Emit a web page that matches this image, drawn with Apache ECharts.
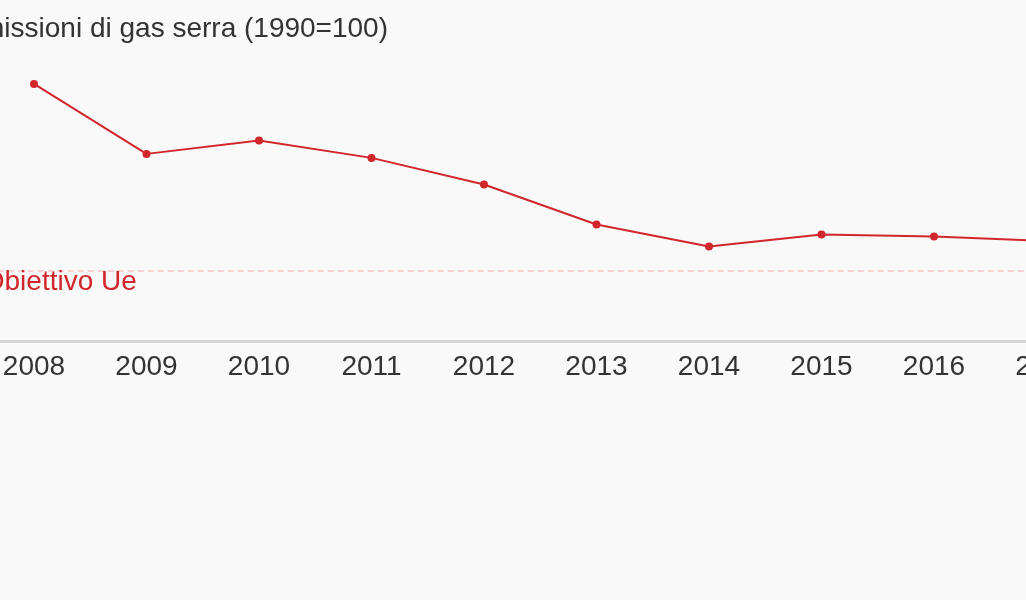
<!DOCTYPE html>
<html>
<head>
<meta charset="utf-8">
<script src="https://cdn.jsdelivr.net/npm/echarts@6/dist/echarts.min.js"></script>
<style>
html,body{margin:0;padding:0;width:1026px;height:600px;overflow:hidden;background:#f9f9f9;}
#chart{position:absolute;left:-100px;top:0;width:1300px;height:600px;}
</style>
</head>
<body>
<div id="chart"></div>
<script>
const years = ['2008','2009','2010','2011','2012','2013','2014','2015','2016','2017'];
const emissions = [104.6, 94.1, 96.1, 93.5, 89.5, 83.5, 80.2, 82.0, 81.7, 81.0];
const targetValue = 76.6;
const titleText = 'Emissioni di gas serra (1990=100)';
const targetLabel = 'Obiettivo Ue';

const chart = echarts.init(document.getElementById('chart'), null, {renderer:'canvas'});
const FONT = '"Liberation Sans", Arial, sans-serif';
chart.setOption({
  backgroundColor: '#f9f9f9',
  animation: false,
  title: {
    text: titleText,
    left: 483,
    top: 10,
    textAlign: 'right',
    textStyle: {fontFamily: FONT, fontSize: 28, fontWeight: 'normal', color: '#333333'}
  },
  grid: {left: 77.75, width: 1125, top: 48, bottom: 259},
  xAxis: {
    type: 'category',
    data: years,
    boundaryGap: true,
    axisLine: {lineStyle: {color: '#d5d5d5', width: 3}},
    axisTick: {show: false},
    axisLabel: {fontFamily: FONT, fontSize: 28, color: '#333333', margin: 12}
  },
  yAxis: {
    type: 'value', min: 66, max: 110, show: false, splitLine: {show: false}
  },
  series: [{
    type: 'line',
    data: emissions,
    symbol: 'circle',
    symbolSize: 8,
    lineStyle: {color: '#d1262c', width: 2},
    itemStyle: {color: '#d1262c'},
    markLine: {
      silent: true,
      symbol: 'none',
      lineStyle: {color: '#f7c5c5', type: [6, 4], width: 1.5},
      label: {
        show: true,
        position: 'insideStartBottom',
        formatter: targetLabel,
        fontFamily: FONT, fontSize: 28, color: '#d1262c',
        distance: [5, -2]
      },
      data: [{yAxis: targetValue}]
    }
  }]
});
</script>
</body>
</html>
